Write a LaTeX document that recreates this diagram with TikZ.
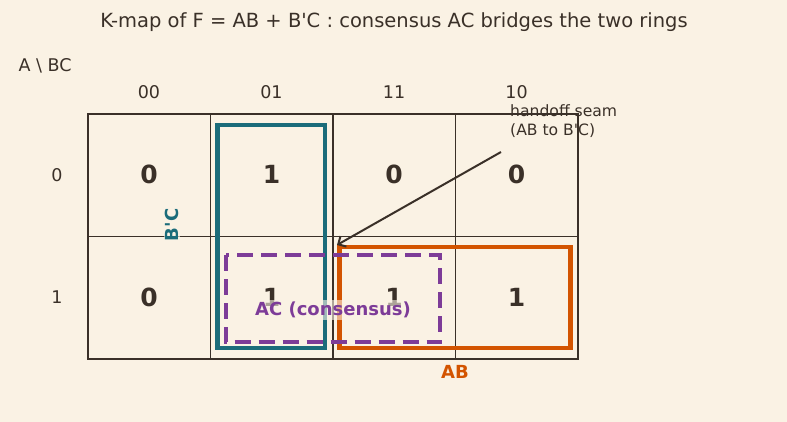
\documentclass[tikz,border=0pt]{standalone}
\usepackage{fontspec}
\setmainfont{DejaVu Sans}
\usetikzlibrary{arrows.meta}
\definecolor{bg}{HTML}{FAF2E4}
\definecolor{ink}{HTML}{3A3028}
\definecolor{teal}{HTML}{1B6C7A}
\definecolor{orng}{HTML}{D35400}
\definecolor{purp}{HTML}{7D3C98}
\newcommand\aq{\textquotesingle}
\tikzset{
  lbl/.style={text=ink, font=\fontsize{17.5}{20}\selectfont, inner sep=0pt},
  cellval/.style={text=ink, font=\fontsize{25}{28}\selectfont\bfseries, inner sep=0pt},
  gridline/.style={draw=ink, line width=1.8pt},
  grp/.style={line width=4.8pt},
  glabel/.style={font=\fontsize{18}{20}\selectfont\bfseries, inner sep=1.5pt, fill=bg, fill opacity=0.6, text opacity=1},
  note/.style={text=ink, font=\fontsize{15.6}{18.5}\selectfont, align=left, inner sep=0pt, anchor=north west},
}
\begin{document}
\begin{tikzpicture}[x=1pt, y=-1pt]
\fill[bg] (0,0) rectangle (787,422);
\useasboundingbox (0,0) rectangle (787,422);
\node[lbl, font=\fontsize{19.5}{22}\selectfont] (title) at (394,22.5) {K-map of F = AB + B\aq C : consensus AC bridges the two rings};
\node[lbl] (corner) at (45,65.5) {A \textbackslash\ BC};
\node[lbl] (h00) at (149,92) {00};
\node[lbl] (h01) at (271.5,92) {01};
\node[lbl] (h11) at (394,92) {11};
\node[lbl] (h10) at (516.5,92) {10};
\node[lbl] (r0) at (57,175) {0};
\node[lbl] (r1) at (57,297) {1};
% grid
\draw[gridline] (88,114) rectangle (578,359);
\draw[gridline] (210.5,114) -- (210.5,359);
\draw[gridline] (333,114) -- (333,359);
\draw[gridline] (455.5,114) -- (455.5,359);
\draw[gridline] (88,236.5) -- (578,236.5);
% cell values
\node[cellval] (c00) at (149,174) {0};
\node[cellval] (c01) at (271.5,174) {1};
\node[cellval] (c11) at (394,174) {0};
\node[cellval] (c10) at (516.5,174) {0};
\node[cellval] (d00) at (149,297) {0};
\node[cellval] (d01) at (271.5,297) {1};
\node[cellval] (d11) at (394,297) {1};
\node[cellval] (d10) at (516.5,297) {1};
% groups
\draw[grp, draw=teal] (217.5,125) rectangle (325,348);
\draw[grp, draw=orng] (339.5,247) rectangle (570.5,348);
\draw[line width=4pt, draw=purp, dash pattern=on 16pt off 8pt] (225.5,255) rectangle (440,342);
% labels
\node[glabel, text=teal, rotate=90] (bc) at (172,225) {B\aq C};
\node[glabel, text=purp] (ac) at (333,310) {AC (consensus)};
\node[glabel, text=orng] (ab) at (455,372) {AB};
% annotation
\node[note] (seam) at (510,104.5) {handoff seam\\(AB to B\aq C)};
\coordinate (from) at (501,152);
\coordinate (to) at (337,245);
\draw[draw=ink, line width=2pt, -{Straight Barb[length=6pt, width=12pt]}] (from) -- (to);
\end{tikzpicture}
\end{document}
